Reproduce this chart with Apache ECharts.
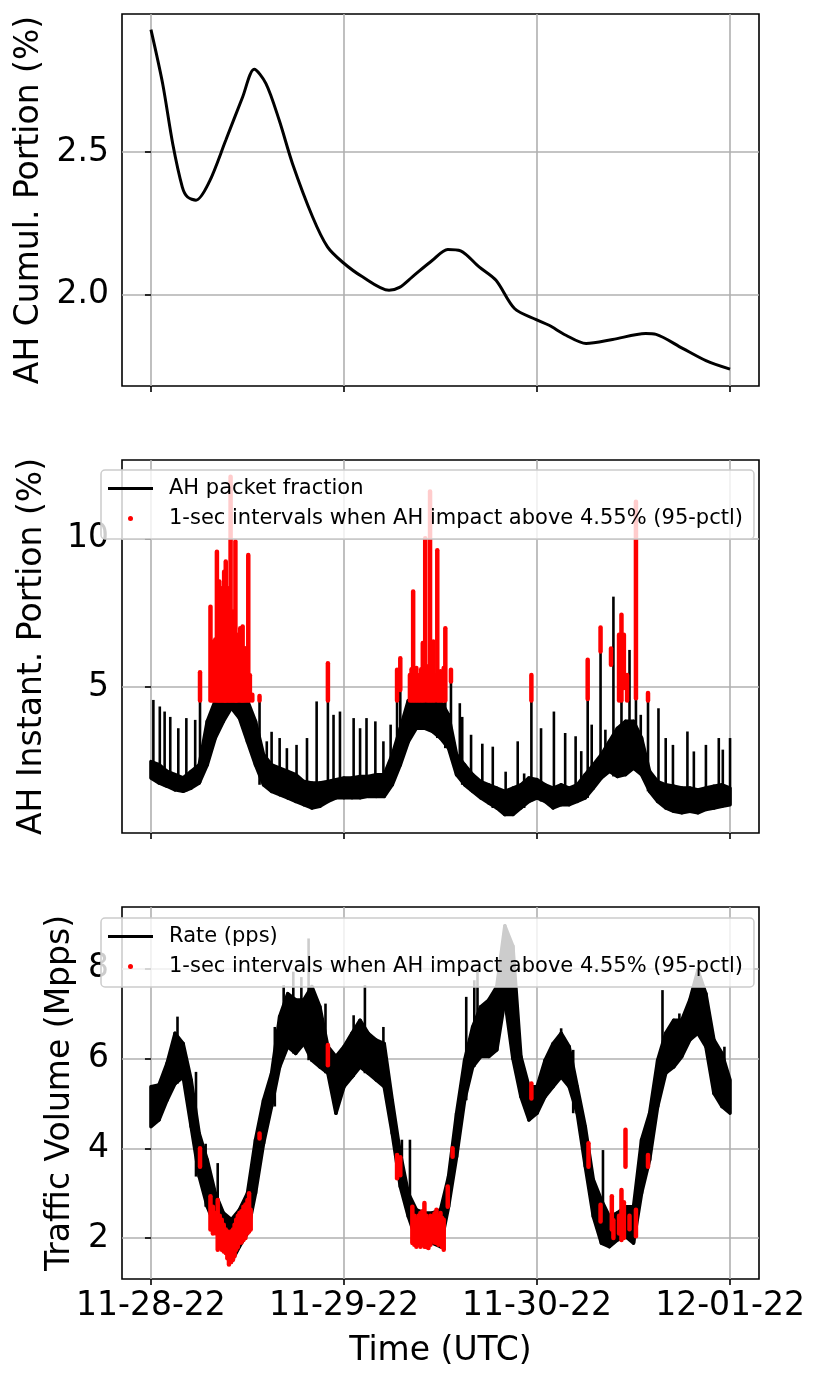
<!DOCTYPE html>
<html>
<head>
<meta charset="utf-8">
<script src="https://cdn.jsdelivr.net/npm/echarts@6/dist/echarts.min.js"></script>
<style>
  html, body { margin: 0; padding: 0; background: #fff; }
  #main { width: 822px; height: 1381px; }
</style>
</head>
<body>
<div id="main"></div>
<script>
// x is hours since 11-28-22 00:00 UTC
var tickHours = [0, 24, 48, 72];
var dayLabels = ['11-28-22', '11-29-22', '11-30-22', '12-01-22'];

// panel 1: cumulative AH portion (%)
var cumHours = [0, 1.45, 2.7, 3.9, 4.55, 5.6, 7.25, 9.3, 11.4, 12.84, 14.3, 15.95, 17.6, 20.1, 21.95, 23.8, 26.3, 29.6,
    30.9, 32.5, 35.0, 36.9, 38.5, 40.8, 42.9, 45.2, 47.9, 49.5, 51.6, 54.1, 57.4, 61.5, 62.8, 66.1, 69.0, 72.0];
var cumValues = [2.929, 2.74, 2.53, 2.377, 2.342, 2.331, 2.395, 2.541, 2.693, 2.79, 2.74, 2.611, 2.459, 2.272, 2.167, 2.114, 2.062, 2.015,
    2.025, 2.062, 2.120, 2.158, 2.153, 2.097, 2.050, 1.951, 1.912, 1.892, 1.857, 1.828, 1.842, 1.863, 1.860, 1.811, 1.768, 1.738];
var cumTicks = [2.0, 2.5];

// panel 2: instant AH portion, hourly low / high of the dense trace (index = hour)
var ahLow = [1.95, 1.78, 1.67, 1.55, 1.50, 1.61, 1.78, 2.39, 3.29, 3.85, 4.30, 3.96, 3.17, 2.39, 1.72, 1.50, 1.39, 1.28, 1.16, 1.05,
    0.94, 1.00, 1.16, 1.28, 1.28, 1.28, 1.28, 1.33, 1.33, 1.33, 1.72, 2.39, 3.17, 3.62, 3.62, 3.51, 3.29, 2.95, 2.06, 1.72,
    1.50, 1.28, 1.11, 0.94, 0.72, 0.72, 0.94, 1.16, 1.28, 1.16, 0.94, 1.05, 1.05, 1.16, 1.28, 1.61, 1.95, 2.17, 2.00, 2.06,
    2.28, 2.06, 1.50, 1.16, 0.94, 0.83, 0.78, 0.83, 0.78, 0.89, 0.94, 1.00, 1.05];
var ahHigh = [2.50, 2.40, 2.17, 2.06, 1.95, 2.17, 2.39, 3.85, 4.55, 4.55, 4.55, 4.55, 4.55, 3.85, 2.73, 2.39, 2.28, 2.17, 2.06, 1.83,
    1.78, 1.78, 1.83, 1.89, 1.95, 1.95, 2.00, 2.00, 2.06, 2.06, 2.73, 3.62, 4.55, 4.55, 4.55, 4.55, 4.55, 4.07, 2.73, 2.39,
    2.06, 1.83, 1.72, 1.61, 1.50, 1.61, 1.72, 1.95, 1.89, 1.72, 1.61, 1.72, 1.61, 1.72, 2.06, 2.39, 2.73, 3.18, 3.62, 3.85,
    3.85, 3.29, 2.17, 1.83, 1.72, 1.67, 1.61, 1.61, 1.55, 1.61, 1.67, 1.72, 1.61];
// thin spikes [hour, peak]
var ahSpikes = [[0.3, 4.57], [1.1, 4.35], [1.7, 4.18], [2.4, 4.0], [3.4, 3.62], [4.4, 3.96], [5.5, 3.9], [6.1, 5.5],
    [13.5, 4.69], [14.4, 3.18], [15, 3.5], [16, 3.29], [16.9, 2.95], [18.1, 3.06], [19.4, 3.29], [20.6, 4.52], [22, 5.8],
    [22.7, 4.07], [23.5, 4.18], [25.2, 3.96], [26, 3.62], [26.8, 3.96], [27.9, 3.85], [28.9, 3.18], [29.8, 3.74],
    [30.6, 5.58], [31, 5.97], [32.6, 8.21], [34.1, 10.0], [34.7, 11.57], [35.6, 9.6], [36.6, 6.98], [37.3, 5.58],
    [38.4, 4.46], [38.7, 4.0], [39.8, 3.4], [41.2, 3.1], [42.5, 3.0], [44.1, 2.16], [45.6, 3.18], [46.4, 2.1],
    [47.3, 5.41], [48.5, 3.62], [50.1, 4.18], [51.5, 3.46], [52.8, 3.35], [53.5, 2.85], [54.3, 5.92], [54.8, 3.74],
    [55.9, 7.0], [56.5, 3.57], [57.5, 8.04], [58.5, 7.43], [59.5, 6.25], [60.3, 11.23], [60.9, 4.07], [61.8, 4.8],
    [63.1, 4.29], [64, 3.29], [64.9, 3.06], [66.7, 3.51], [67.5, 2.84], [69, 3.06], [70.6, 3.29], [71.1, 2.9], [72, 3.29]];
// red 1-sec marks [hour, from, to]
var ahRed = [[6.1, 4.55, 5.5],
    [7.4, 4.55, 7.7], [7.6, 4.55, 6.4], [7.8, 4.55, 6.53], [8.0, 4.55, 6.6], [8.2, 4.55, 9.55], [8.35, 4.55, 7.2],
    [8.5, 4.55, 8.55], [8.65, 4.55, 7.0], [8.8, 4.55, 8.32], [8.95, 4.55, 7.4], [9.1, 4.55, 8.88], [9.2, 4.55, 7.0],
    [9.3, 4.55, 9.22], [9.45, 4.55, 7.2], [9.6, 4.55, 8.32], [9.75, 4.55, 7.4], [9.9, 4.55, 12.07], [10.05, 4.55, 7.0],
    [10.2, 4.55, 7.54], [10.35, 4.55, 6.9], [10.5, 4.55, 9.89], [10.6, 4.55, 6.5], [10.7, 4.55, 6.76], [10.9, 4.55, 6.3],
    [11.1, 4.55, 6.98], [11.25, 4.55, 6.0], [11.4, 4.55, 7.04], [11.55, 4.55, 5.8], [11.7, 4.55, 6.31], [11.9, 4.55, 5.6],
    [12.1, 4.55, 9.44], [12.3, 4.55, 5.4], [12.6, 4.55, 4.74],
    [13.5, 4.55, 4.7], [22, 4.55, 5.8], [30.6, 4.55, 5.58], [31.0, 4.9, 5.97],
    [32.2, 4.55, 5.41], [32.4, 4.55, 5.6], [32.6, 4.55, 8.21], [32.8, 4.55, 5.5], [33.0, 4.55, 5.64], [33.2, 4.55, 5.3],
    [33.4, 4.55, 5.41], [33.6, 4.55, 5.6], [33.8, 4.55, 6.48], [34.0, 4.55, 5.5], [34.1, 5.5, 10.0], [34.3, 4.55, 5.7],
    [34.5, 4.55, 5.4], [34.7, 4.55, 11.57], [34.9, 4.55, 5.5], [35.1, 4.55, 6.53], [35.3, 4.55, 5.4], [35.6, 4.55, 9.6],
    [35.8, 4.55, 5.5], [36.0, 4.55, 5.53], [36.2, 4.55, 5.4], [36.4, 4.55, 5.64], [36.6, 4.55, 6.98],
    [37.3, 5.19, 5.58], [47.3, 4.55, 5.41], [54.3, 4.6, 5.92], [55.9, 6.2, 7.0], [57.2, 5.75, 6.3], [58.2, 4.55, 6.76],
    [58.5, 4.55, 7.43], [58.8, 4.97, 6.76], [59.2, 4.55, 5.41], [60.3, 4.63, 11.23], [61.8, 4.55, 4.8]];
var ahTicks = [5, 10];

// panel 3: traffic volume (Mpps), hourly low / high (index = hour)
var rateLow = [4.48, 4.63, 5.07, 5.44, 5.59, 4.48, 3.37, 2.70, 2.26, 1.89, 1.47, 1.81, 2.11, 3.00, 4.11, 4.93, 5.81, 6.26, 6.11, 6.33,
    5.96, 5.81, 5.67, 4.78, 5.37, 5.59, 5.81, 5.67, 5.52, 5.37, 4.33, 3.15, 2.48, 1.96, 1.89, 1.89, 1.81, 2.70, 3.81, 5.07,
    5.81, 6.04, 6.04, 6.19, 7.30, 6.00, 5.15, 4.63, 4.78, 5.15, 5.37, 5.59, 5.37, 4.78, 3.60, 2.48, 1.89, 1.81, 1.96, 2.04,
    1.89, 3.00, 3.74, 4.93, 5.67, 5.81, 6.04, 6.41, 6.56, 6.26, 5.22, 4.93, 4.78];
var rateHigh = [5.37, 5.41, 5.89, 6.56, 6.33, 5.52, 4.33, 3.74, 3.00, 2.56, 2.41, 2.63, 3.00, 4.19, 5.07, 5.67, 6.93, 7.44, 7.30, 7.30,
    7.60, 7.15, 6.26, 6.04, 6.26, 6.56, 6.85, 6.56, 6.41, 6.33, 5.07, 3.89, 3.00, 2.63, 2.56, 2.56, 2.63, 3.37, 4.78, 5.96,
    6.70, 7.15, 7.30, 7.60, 8.95, 8.50, 6.04, 5.37, 5.37, 5.96, 6.33, 6.56, 6.26, 5.37, 4.48, 3.30, 2.85, 2.48, 2.56, 2.70,
    2.70, 4.19, 4.78, 5.96, 6.56, 6.85, 6.85, 7.30, 7.96, 7.44, 6.41, 6.11, 5.52];
var rateSpikes = [[3.3, 6.93], [5.6, 5.7], [6.8, 4.1], [8.3, 3.67], [15.4, 6.7], [16.5, 7.63], [17.7, 7.93], [18.7, 7.81],
    [19.6, 8.67], [21.7, 7.22], [25.2, 6.96], [26.6, 7.63], [28.9, 6.7], [31.2, 4.19], [32.2, 4.19], [39.2, 7.37],
    [40.2, 7.74], [40.6, 8.0], [51, 6.67], [52.5, 6.19], [56.2, 3.96], [63.6, 7.52], [65.7, 7.0], [71.3, 6.26]];
var rateRed = [[6.1, 3.59, 4.0], [7.4, 2.19, 2.93], [7.7, 2.1, 2.7], [8.0, 2.11, 2.56], [8.3, 1.74, 2.85], [8.55, 1.8, 2.5],
    [8.8, 1.74, 2.41], [9.05, 1.7, 2.3], [9.3, 1.67, 2.19], [9.5, 1.55, 2.15], [9.7, 1.41, 2.11], [9.95, 1.47, 2.15],
    [10.2, 1.52, 2.19], [10.4, 1.6, 2.3], [10.6, 1.74, 2.41], [10.8, 1.8, 2.5], [11.0, 1.89, 2.56], [11.25, 1.9, 2.6],
    [11.5, 1.96, 2.7], [11.75, 2.0, 2.75], [12.0, 2.11, 2.85], [12.2, 2.15, 3.0], [12.4, 2.19, 2.63],
    [13.5, 4.22, 4.33], [22, 5.85, 6.3], [30.6, 3.33, 3.85], [31.0, 3.4, 3.8],
    [32.5, 1.89, 2.7], [32.75, 1.85, 2.5], [33.0, 1.81, 2.41], [33.25, 1.85, 2.5], [33.5, 1.81, 2.56], [33.75, 1.85, 2.6],
    [34.0, 1.81, 2.78], [34.25, 1.8, 2.5], [34.5, 1.78, 2.41], [34.75, 1.85, 2.5], [35.0, 1.96, 2.48], [35.25, 1.9, 2.55],
    [35.5, 1.89, 2.63], [35.75, 1.85, 2.5], [36.0, 1.89, 2.56], [36.2, 1.8, 2.45], [36.4, 1.74, 2.41], [36.9, 2.7, 3.15],
    [37.5, 3.81, 4.0], [47.3, 5.11, 5.44], [54.4, 3.59, 4.11], [55.9, 2.37, 2.74], [57.3, 2.19, 2.93], [57.5, 2.0, 2.4],
    [58.2, 2.1, 2.5], [58.5, 1.96, 3.07], [58.8, 2.0, 2.8], [59.0, 3.59, 4.41], [59.5, 2.2, 2.5], [60.3, 2.04, 2.63],
    [61.8, 3.59, 3.85]];
var rateTicks = [2, 4, 6, 8];

var FONT = 'DejaVu Sans';
var RED_NAME = '1-sec intervals when AH impact above 4.55% (95-pctl)';
var GRID_COLOR = '#b0b0b0';

var myChart = echarts.init(document.getElementById('main'));

function pairs(xs, ys) {
    var out = [];
    for (var i = 0; i < xs.length; i++) {
        out.push([xs[i], ys[i]]);
    }
    return out;
}

// one item per hour: [hour, low, high, nextLow, nextHigh]
function bandSegments(low, high) {
    var out = [];
    for (var i = 0; i < low.length - 1; i++) {
        out.push([i, low[i], high[i], low[i + 1], high[i + 1]]);
    }
    return out;
}

function bandRenderer(params, api) {
    var h = api.value(0);
    var a = api.coord([h, api.value(1)]);
    var b = api.coord([h + 1, api.value(3)]);
    var c = api.coord([h + 1, api.value(4)]);
    var d = api.coord([h, api.value(2)]);
    return {
        type: 'polygon',
        shape: { points: [a, b, c, d] },
        style: { fill: '#000', stroke: '#000', lineWidth: 3.5, lineJoin: 'round' }
    };
}

// spike drawn from the hourly low of the trace up to its peak
function spikeRenderer(low) {
    return function (params, api) {
        var h = api.value(0);
        var base = low[Math.min(low.length - 1, Math.max(0, Math.round(h)))];
        var p0 = api.coord([h, base]);
        var p1 = api.coord([h, api.value(1)]);
        return {
            type: 'line',
            shape: { x1: p0[0], y1: p0[1], x2: p1[0], y2: p1[1] },
            style: { stroke: '#000', lineWidth: 2.6 }
        };
    };
}

function redRenderer(params, api) {
    var h = api.value(0);
    var p0 = api.coord([h, api.value(1)]);
    var p1 = api.coord([h, api.value(2)]);
    return {
        type: 'line',
        shape: { x1: p0[0], y1: p0[1], x2: p1[0], y2: p1[1] },
        style: { stroke: '#ff0000', lineWidth: 4.5, lineCap: 'round' }
    };
}

function xAxisFor(idx, withLabels) {
    return {
        type: 'value', gridIndex: idx, min: -3.6, max: 75.6,
        axisLine: { show: false },
        axisTick: { show: true, customValues: tickHours, length: 6, lineStyle: { color: '#000', width: 1.6 } },
        axisLabel: {
            show: withLabels, customValues: tickHours, margin: 11,
            fontSize: 33, fontFamily: FONT, color: '#000',
            formatter: function (v) { return dayLabels[Math.round(v / 24)]; }
        },
        splitLine: { show: true, lineStyle: { color: GRID_COLOR, width: 1.6 } },
        name: withLabels ? 'Time (UTC)' : '',
        nameLocation: 'middle', nameGap: 56,
        nameTextStyle: { fontSize: 33, fontFamily: FONT, color: '#000' }
    };
}

function yAxisFor(idx, min, max, ticks, name, gap, digits) {
    return {
        type: 'value', gridIndex: idx, min: min, max: max,
        axisLine: { show: false },
        axisTick: { show: true, customValues: ticks, length: 6, lineStyle: { color: '#000', width: 1.6 } },
        axisLabel: {
            customValues: ticks, margin: 13,
            fontSize: 33, fontFamily: FONT, color: '#000',
            formatter: function (v) { return v.toFixed(digits); }
        },
        splitLine: { show: true, lineStyle: { color: GRID_COLOR, width: 1.6 } },
        name: name, nameLocation: 'middle', nameGap: gap,
        nameTextStyle: { fontSize: 33, fontFamily: FONT, color: '#000' }
    };
}

function legendFor(top, lineName) {
    return {
        orient: 'vertical', left: 101, top: top,
        data: [
            { name: lineName, icon: 'path://M0,0H45V3H0Z', itemStyle: { color: '#000' } },
            { name: RED_NAME, icon: 'circle', itemStyle: { color: '#ff0000' } }
        ],
        itemWidth: 45, itemHeight: 5, itemGap: 9,
        padding: [8, 11, 10, 7],
        backgroundColor: 'rgba(255,255,255,0.8)',
        borderColor: '#cccccc', borderWidth: 1.5, borderRadius: 4,
        textStyle: { fontSize: 21, lineHeight: 21, fontFamily: FONT, color: '#000', padding: [0, 0, 0, 11] },
        selectedMode: false, z: 10
    };
}

var gridBase = { left: 122, width: 637, show: true, borderColor: '#000', borderWidth: 1.6, backgroundColor: 'transparent', outerBoundsMode: 'none', containLabel: false };

option = {
    animation: false,
    backgroundColor: '#fff',
    textStyle: { fontFamily: FONT },
    grid: [
        Object.assign({ top: 14, height: 372 }, gridBase),
        Object.assign({ top: 460, height: 373 }, gridBase),
        Object.assign({ top: 907, height: 372 }, gridBase)
    ],
    xAxis: [xAxisFor(0, false), xAxisFor(1, false), xAxisFor(2, true)],
    yAxis: [
        yAxisFor(0, 1.679, 2.984, cumTicks, 'AH Cumul. Portion (%)', 76, 1),
        yAxisFor(1, 0.10, 12.63, ahTicks, 'AH Instant. Portion (%)', 73, 0),
        yAxisFor(2, 1.09, 9.37, rateTicks, 'Traffic Volume (Mpps)', 44, 0)
    ],
    legend: [legendFor(470, 'AH packet fraction'), legendFor(918, 'Rate (pps)')],
    series: [
        {
            name: 'AH cumulative', type: 'line', xAxisIndex: 0, yAxisIndex: 0,
            data: pairs(cumHours, cumValues), smooth: 0.3, symbol: 'none',
            lineStyle: { color: '#000', width: 3 }, z: 2
        },
        {
            name: 'AH packet fraction', type: 'custom', xAxisIndex: 1, yAxisIndex: 1,
            data: bandSegments(ahLow, ahHigh), renderItem: bandRenderer, itemStyle: { color: '#000' }, z: 2
        },
        {
            name: 'AH spikes', type: 'custom', xAxisIndex: 1, yAxisIndex: 1,
            data: ahSpikes, renderItem: spikeRenderer(ahLow), z: 3
        },
        {
            name: RED_NAME, type: 'custom', xAxisIndex: 1, yAxisIndex: 1,
            data: ahRed, renderItem: redRenderer, itemStyle: { color: '#ff0000' }, z: 4
        },
        {
            name: 'Rate (pps)', type: 'custom', xAxisIndex: 2, yAxisIndex: 2,
            data: bandSegments(rateLow, rateHigh), renderItem: bandRenderer, itemStyle: { color: '#000' }, z: 2
        },
        {
            name: 'Rate spikes', type: 'custom', xAxisIndex: 2, yAxisIndex: 2,
            data: rateSpikes, renderItem: spikeRenderer(rateLow), z: 3
        },
        {
            name: RED_NAME, type: 'custom', xAxisIndex: 2, yAxisIndex: 2,
            data: rateRed, renderItem: redRenderer, itemStyle: { color: '#ff0000' }, z: 4
        }
    ]
};
myChart.setOption(option);
</script>
</body>
</html>
